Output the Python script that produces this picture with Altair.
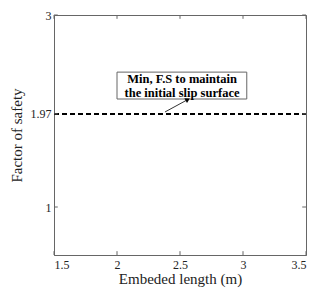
import altair as alt
import pandas as pd

# data
x_ticks = [1.5, 2, 2.5, 3, 3.5]
y_ticks = [1, 1.97, 3]
fs_x = [1.5, 3.5]
fs_y = [1.97, 1.97]
note_lines = ["Min, F.S to maintain", "the initial slip surface"]
note_box = {"x": 2.0, "x2": 3.03, "y": 2.125, "y2": 2.405}
note_text_x = 2.516
note_text_y = [2.33, 2.19]
arrow_tail = (2.381, 1.99)
arrow_tip = (2.556, 2.115)

FONT = "Liberation Serif, Times New Roman, DejaVu Serif, serif"
GRAY = "#666666"

xs = alt.Scale(domain=[1.5, 3.5], nice=False, zero=False)
ys = alt.Scale(domain=[0.5, 3], nice=False, zero=False)

line_df = pd.DataFrame({"x": fs_x, "y": fs_y})
base_line = alt.Chart(line_df).mark_line(color="black", strokeWidth=2, strokeDash=[5, 3]).encode(
    x=alt.X("x:Q", scale=xs, title="Embeded length (m)",
            axis=alt.Axis(values=x_ticks, format=".3~g", ticks=False, grid=False,
                          labelPadding=4, titlePadding=1)),
    y=alt.Y("y:Q", scale=ys, title="Factor of safety",
            axis=alt.Axis(values=y_ticks, format=".3~g", ticks=False, grid=False,
                          labelPadding=3, titlePadding=6)),
)

# inward ticks
tb = pd.DataFrame({"x": x_ticks})
bottom_ticks = alt.Chart(tb).mark_rule(color=GRAY).encode(
    x="x:Q", y=alt.datum(0.5), y2=alt.datum(0.54))
top_ticks = alt.Chart(tb).mark_rule(color=GRAY).encode(
    x="x:Q", y=alt.datum(3.0), y2=alt.datum(2.96))
tl = pd.DataFrame({"y": y_ticks})
left_ticks = alt.Chart(tl).mark_rule(color=GRAY).encode(
    y="y:Q", x=alt.datum(1.5), x2=alt.datum(1.53))
right_ticks = alt.Chart(tl).mark_rule(color=GRAY).encode(
    y="y:Q", x=alt.datum(3.5), x2=alt.datum(3.47))

box_df = pd.DataFrame([note_box])
box = alt.Chart(box_df).mark_rect(fill="white", stroke=GRAY, strokeWidth=1).encode(
    x="x:Q", x2="x2", y="y:Q", y2="y2")

txt_df = pd.DataFrame({"x": [note_text_x] * 2, "y": note_text_y, "t": note_lines})
txt = alt.Chart(txt_df).mark_text(font=FONT, fontWeight="bold", fontSize=12.5,
                                  color="black", align="center", baseline="middle").encode(
    x="x:Q", y="y:Q", text="t:N")

arr_df = pd.DataFrame({"x": [arrow_tail[0], arrow_tip[0]], "y": [arrow_tail[1], arrow_tip[1]]})
arr = alt.Chart(arr_df).mark_line(color="#333333", strokeWidth=1).encode(x="x:Q", y="y:Q")
head_df = pd.DataFrame({"x": [arrow_tip[0]], "y": [arrow_tip[1]]})
head = alt.Chart(head_df).mark_point(shape="triangle", filled=True, color="black",
                                     size=30, angle=61, opacity=1).encode(x="x:Q", y="y:Q")

chart = alt.layer(base_line, bottom_ticks, top_ticks, left_ticks, right_ticks,
                  box, txt, arr, head).properties(
    width=252, height=240,
    autosize=alt.AutoSizeParams(type="none"),
    padding={"left": 46, "top": 7, "right": 1, "bottom": 34},
    background="white",
).configure_view(stroke=GRAY, strokeWidth=1).configure_axis(
    domainColor=GRAY, labelFont=FONT, titleFont=FONT, labelFontSize=12,
    titleFontSize=15, titleFontWeight="normal", labelColor="#222222", titleColor="#222222",
)

chart.save("out.html", embed_options={"renderer": "svg", "actions": False})
